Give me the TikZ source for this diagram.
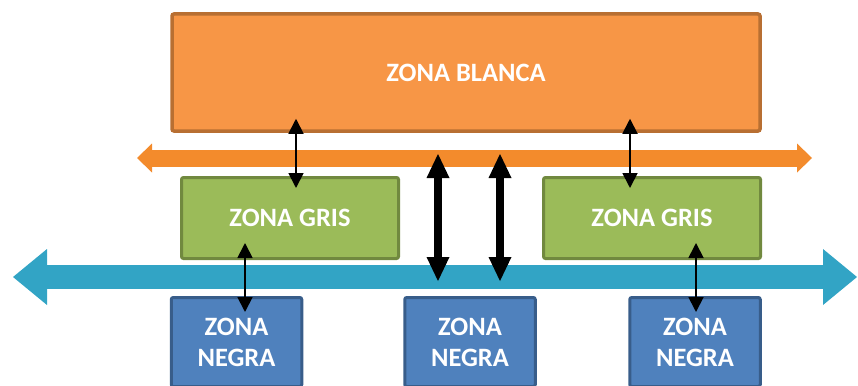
\documentclass[tikz,border=0pt]{standalone}
\usepackage{fontspec}
\setmainfont{Carlito}
\usetikzlibrary{positioning, arrows.meta}

\definecolor{blancafill}{HTML}{F79646}
\definecolor{blancaline}{HTML}{B86F32}
\definecolor{grisfill}{HTML}{9BBB59}
\definecolor{grisline}{HTML}{71893F}
\definecolor{negrafill}{HTML}{4F81BD}
\definecolor{negraline}{HTML}{385D8A}
\definecolor{busorange}{HTML}{F38B2C}
\definecolor{busblue}{HTML}{32A4C5}

\begin{document}
\begin{tikzpicture}[x=1pt, y=-1pt,
    every node/.style={font=\fontsize{26.5}{31}\selectfont\bfseries, text=white, align=center, inner sep=0pt},
    zona/.style={draw, rounded corners=2pt},
    blanca/.style={zona, fill=blancafill, draw=blancaline, line width=3.5pt, minimum width=588pt, minimum height=117pt},
    gris/.style={zona, fill=grisfill, draw=grisline, line width=3pt, minimum width=217pt, minimum height=81pt},
    negra/.style={zona, fill=negrafill, draw=negraline, line width=3pt, minimum width=130.5pt, minimum height=89pt},
    busblanca/.style={busorange, line width=17pt, {Triangle[length=15pt, width=29pt, line width=0pt]}-{Triangle[length=15pt, width=29pt, line width=0pt]}},
    busnegra/.style={busblue, line width=24pt, {Triangle[length=34pt, width=56pt, line width=0pt]}-{Triangle[length=34pt, width=56pt, line width=0pt]}},
    enlace/.style={black, line width=1.8pt, {Triangle[length=15pt, width=15pt]}-{Triangle[length=15pt, width=15pt]}},
    enlacegrueso/.style={black, line width=7.5pt, {Triangle[length=24pt, width=23pt, line width=0pt]}-{Triangle[length=24pt, width=23pt, line width=0pt]}}]
    \useasboundingbox (0,0) rectangle (858,385);
    \clip (0,0) rectangle (858,385);

    \node (blanca) [blanca] at (466,72.5) {\raisebox{-2.5pt}{ZONA BLANCA}};
    \node (gris1) [gris] at (290,218) {ZONA GRIS};
    \node (gris2) [gris] at (652,218) {ZONA GRIS};
    \node (negra1) [negra] at (236.5,342) {ZONA\\NEGRA};
    \node (negra2) [negra] at (470,342) {ZONA\\NEGRA};
    \node (negra3) [negra] at (695,342) {ZONA\\NEGRA};

    % Buses
    \coordinate (bbO) at (137,158);
    \coordinate (bbE) at (812,158);
    \coordinate (bnO) at (13,277);
    \coordinate (bnE) at (857,277);
    \draw[busblanca] (bbO) -- (bbE);
    \draw[busnegra] (bnO) -- (bnE);

    % Conexiones
    \coordinate (x1) at (296,0);
    \coordinate (x2) at (630,0);
    \coordinate (x3) at (438,0);
    \coordinate (x4) at (500,0);
    \coordinate (x5) at (245,0);
    \coordinate (x6) at (696,0);
    \draw[enlace] ([yshift=14pt]blanca.south -| x1) -- ([yshift=-12pt]gris1.north -| x1);
    \draw[enlace] ([yshift=14pt]blanca.south -| x2) -- ([yshift=-12pt]gris2.north -| x2);
    \draw[enlace] ([yshift=17pt]gris1.south -| x5) -- ([yshift=-16pt]negra1.north -| x5);
    \draw[enlace] ([yshift=17pt]gris2.south -| x6) -- ([yshift=-16pt]negra3.north -| x6);
    \draw[enlacegrueso] ([yshift=4pt]bbO -| x3) -- ([yshift=-4pt]bnO -| x3);
    \draw[enlacegrueso] ([yshift=4pt]bbO -| x4) -- ([yshift=-4pt]bnO -| x4);
\end{tikzpicture}
\end{document}
